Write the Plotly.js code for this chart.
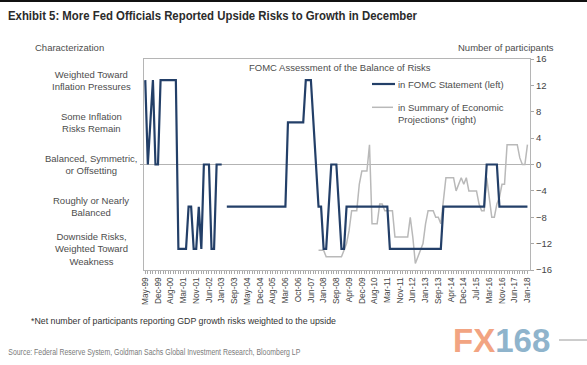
<!DOCTYPE html>
<html>
<head>
<meta charset="utf-8">
<script src="https://cdn.plot.ly/plotly-3.0.1.min.js"></script>
<style>html,body{margin:0;padding:0;background:#fff;}#chart{width:587px;height:365px;}</style>
</head>
<body>
<div id="chart"></div>
<script>
// ---- DATA ----
const meetings = [
 'May-99','Jun-99','Aug-99','Oct-99','Nov-99','Dec-99',
 'Feb-00','Mar-00','May-00','Jun-00','Aug-00','Oct-00','Nov-00','Dec-00',
 'Jan-01','Mar-01','May-01','Jun-01','Aug-01','Oct-01','Nov-01','Dec-01',
 'Jan-02','Mar-02','May-02','Jun-02','Aug-02','Sep-02','Nov-02','Dec-02',
 'Jan-03','Mar-03','May-03','Jun-03','Aug-03','Sep-03','Oct-03','Dec-03',
 'Jan-04','Mar-04','May-04','Jun-04','Aug-04','Sep-04','Nov-04','Dec-04',
 'Feb-05','Mar-05','May-05','Jun-05','Aug-05','Sep-05','Nov-05','Dec-05',
 'Jan-06','Mar-06','May-06','Jun-06','Aug-06','Sep-06','Oct-06','Dec-06',
 'Jan-07','Mar-07','May-07','Jun-07','Aug-07','Sep-07','Oct-07','Dec-07',
 'Jan-08','Mar-08','Apr-08','Jun-08','Aug-08','Sep-08','Oct-08','Dec-08',
 'Jan-09','Mar-09','Apr-09','Jun-09','Aug-09','Sep-09','Nov-09','Dec-09',
 'Jan-10','Mar-10','Apr-10','Jun-10','Aug-10','Sep-10','Nov-10','Dec-10',
 'Jan-11','Mar-11','Apr-11','Jun-11','Aug-11','Sep-11','Nov-11','Dec-11',
 'Jan-12','Mar-12','Apr-12','Jun-12','Aug-12','Sep-12','Oct-12','Dec-12',
 'Jan-13','Mar-13','May-13','Jun-13','Jul-13','Sep-13','Oct-13','Dec-13',
 'Jan-14','Mar-14','Apr-14','Jun-14','Jul-14','Sep-14','Oct-14','Dec-14',
 'Jan-15','Mar-15','Apr-15','Jun-15','Jul-15','Sep-15','Oct-15','Dec-15',
 'Jan-16','Mar-16','Apr-16','Jun-16','Jul-16','Sep-16','Nov-16','Dec-16',
 'Feb-17','Mar-17','May-17','Jun-17','Jul-17','Sep-17','Nov-17','Dec-17',
 'Jan-18'
];
const tickLabels = ['May-99','Dec-99','Aug-00','Mar-01','Nov-01','Jun-02','Jan-03','Sep-03',
 'May-04','Dec-04','Aug-05','Mar-06','Oct-06','Jun-07','Jan-08','Sep-08','Apr-09','Dec-09',
 'Aug-10','Mar-11','Nov-11','Jun-12','Jan-13','Sep-13','Apr-14','Dec-14','Jul-15','Mar-16',
 'Nov-16','Jun-17','Jan-18'];

// FOMC statement characterization (left axis level: -2 downside ... 2 inflation)
const fomcLevel = [
 2,0,1,2,0,0,
 2,2,2,2,2,2,2,-2,
 -2,-2,-2,-1,-1,-2,-2,-1,
 -2,0,0,0,-2,-2,0,0,
 0,null,-1,-1,-1,-1,-1,-1,
 -1,-1,-1,-1,-1,-1,-1,-1,
 -1,-1,-1,-1,-1,-1,-1,-1,
 -1,-1,1,1,1,1,1,1,
 1,2,2,2,1,0,-1,-1,
 -2,-2,-1,0,0,0,-1,-2,
 -2,-1,-1,-1,-1,-1,-1,-1,
 -1,-1,-1,-1,-1,-1,-1,-1,
 -1,-1,-2,-2,-2,-2,-2,-2,
 -2,-2,-2,-2,-2,-2,-2,-2,
 -2,-2,-2,-2,-2,-2,-2,-1,
 -1,-1,-1,-1,-1,-1,-1,-1,
 -1,-1,-1,-1,-1,-1,-1,-1,
 0,0,0,0,0,-1,-1,-1,
 -1,-1,-1,-1,-1,-1,-1,-1,
 -1
];

// SEP: net number of participants reporting GDP growth risks weighted to the upside (right axis)
const sepStart = 'Oct-07';
const sepNet = [
 -13,-13,-13,-14,-14,-14,-14,-14,-14,-14,
 -13,-12,-10,-7,-7,-7,-3,-1,-1,-1,
 3,-9,-9,-9,-6,-6,-7,-7,-7,-7,
 -11,-11,-11,-11,-11,-11,-8,-11,-15,-14,
 -13,-12,-9,-7,-7,-7,-8,-8,-9,-5,
 -2,-2,-2,-2,-4,-3,-2,-3,-2,-4,
 -4,-4,-4,-6,-7,-7,-2,-5,-8,-8,
 -6,-5,-3,-3,3,3,3,3,3,1,
 0,0,3
];

const levelValues = [-2,-1,0,1,2];
const levelLabels = ['Downside Risks,<br>Weighted Toward<br>Weakness','Roughly or Nearly<br>Balanced',
 'Balanced, Symmetric,<br>or Offsetting','Some Inflation<br>Risks Remain','Weighted Toward<br>Inflation Pressures'];
const participantTicks = [-16,-12,-8,-4,0,4,8,12,16];

// ---- LAYOUT HELPERS (pixel -> paper) ----
const L = 144, R = 530, T = 59, B = 270;
const X = px => (px - L) / (R - L);
const Y = py => (B - py) / (B - T);

const FONT = 'Liberation Sans, Arial, sans-serif';
const BLUE = '#233f68';
const GRAY = '#b9b9b9';
const SOURCE_W = 292;

const traces = [
 {
  x: meetings.slice(meetings.indexOf(sepStart)), y: sepNet, yaxis: 'y',
  type: 'scatter', mode: 'lines', line: {color: GRAY, width: 1.5}, name: 'in Summary of Economic Projections* (right)',
  hoverinfo: 'skip'
 },
 {
  x: meetings, y: fomcLevel, yaxis: 'y2', connectgaps: false,
  type: 'scatter', mode: 'lines', line: {color: BLUE, width: 2.2}, name: 'in FOMC Statement (left)',
  hoverinfo: 'skip'
 }
];

const ann = [];
levelValues.forEach((v, i) => ann.push({
 x: X(91), xref: 'paper', y: v, yref: 'y2', text: levelLabels[i], showarrow: false,
 xanchor: 'center', yanchor: 'middle', align: 'center', font: {family: FONT, size: 9.5, color: '#4d4d4d'}
}));
ann.push(
 {x: X(69), y: Y(47), xref: 'paper', yref: 'paper', text: 'Characterization', showarrow: false, xanchor: 'center', yanchor: 'middle', font: {family: FONT, size: 9.5, color: '#4d4d4d'}},
 {x: X(556), y: Y(47), xref: 'paper', yref: 'paper', text: 'Number of participants', showarrow: false, xanchor: 'right', yanchor: 'middle', font: {family: FONT, size: 9.5, color: '#4d4d4d'}},
 {x: X(340), y: Y(67.5), xref: 'paper', yref: 'paper', text: 'FOMC Assessment of the Balance of Risks', showarrow: false, xanchor: 'center', yanchor: 'middle', font: {family: FONT, size: 9.5, color: '#4d4d4d'}},
 {x: X(396), y: Y(84), xref: 'paper', yref: 'paper', text: 'in FOMC Statement (left)', showarrow: false, xanchor: 'left', yanchor: 'middle', align: 'left', font: {family: FONT, size: 9.5, color: '#4d4d4d'}},
 {x: X(396), y: Y(113.5), xref: 'paper', yref: 'paper', text: 'in Summary of Economic<br>Projections* (right)', showarrow: false, xanchor: 'left', yanchor: 'middle', align: 'left', font: {family: FONT, size: 9.5, color: '#4d4d4d'}},
 {x: X(29), y: Y(321), xref: 'paper', yref: 'paper', text: '*Net number of participants reporting GDP growth risks weighted to the upside', showarrow: false, xanchor: 'left', yanchor: 'middle', font: {family: FONT, size: 8.8, color: '#333'}},
 {x: X(8 + SOURCE_W / 2), y: Y(352), xref: 'paper', yref: 'paper', text: 'Source: Federal Reserve System, Goldman Sachs Global Investment Research, Bloomberg LP', showarrow: false, xanchor: 'center', yanchor: 'middle', font: {family: FONT, size: 8.5, color: '#7a7a7a'}},
 {x: X(451), y: Y(340), xref: 'paper', yref: 'paper', text: '<span style="color:#f2a482">FX</span><span style="color:#8fb4cc">168</span>', showarrow: false, xanchor: 'left', yanchor: 'middle', font: {family: FONT, size: 33, weight: 'bold'}}
);

const layout = {
 width: 587, height: 365,
 margin: {l: L, r: 587 - R, t: T, b: 365 - B, pad: 0},
 paper_bgcolor: '#fff', plot_bgcolor: '#fff',
 font: {family: FONT, color: '#444'},
 showlegend: false,
 title: {text: '<b>Exhibit 5: More Fed Officials Reported Upside Risks to Growth in December</b>',
  x: 8 / 587, xanchor: 'left', xref: 'container', y: 1 - 15.5 / 365, yanchor: 'middle', yref: 'container',
  font: {family: FONT, size: 13.5, color: '#2b2b2b'}},
 xaxis: {
  type: 'category', categoryorder: 'array', categoryarray: meetings, range: [-0.5, 151],
  tickmode: 'array', tickvals: meetings, ticktext: meetings.map(m => tickLabels.includes(m) ? m : ''),
  tickangle: -90, tickfont: {family: FONT, size: 8.3, color: '#444'},
  ticks: 'outside', ticklen: 3, tickcolor: '#a8a8a8', tickwidth: 1,
  showline: true, mirror: true, linecolor: '#b5b5b5', linewidth: 1,
  showgrid: false, zeroline: false, fixedrange: true
 },
 yaxis: {
  side: 'right', range: [-16, 16], tickmode: 'array', tickvals: participantTicks,
  ticks: 'outside', ticklen: 3, tickcolor: '#a8a8a8', tickfont: {family: FONT, size: 9.5, color: '#444'},
  showline: true, mirror: true, linecolor: '#b5b5b5', linewidth: 1,
  showgrid: false, zeroline: true, zerolinecolor: '#b3b3b3', zerolinewidth: 1, fixedrange: true
 },
 yaxis2: {
  overlaying: 'y', side: 'left', range: [-2.5, 2.5], showticklabels: false,
  tickmode: 'array', tickvals: [0], ticks: 'outside', ticklen: 3, tickcolor: '#a8a8a8',
  showline: false, showgrid: false, zeroline: false, fixedrange: true
 },
 shapes: [
  {type: 'line', xref: 'paper', yref: 'paper', x0: X(372), x1: X(395), y0: Y(84), y1: Y(84), line: {color: BLUE, width: 2.2}},
  {type: 'line', xref: 'paper', yref: 'paper', x0: X(372), x1: X(393), y0: Y(107.3), y1: Y(107.3), line: {color: GRAY, width: 1.5}},
  {type: 'rect', xref: 'paper', yref: 'paper', x0: X(0), x1: X(587), y0: Y(2), y1: Y(0), fillcolor: '#111', line: {width: 0}},
  {type: 'line', xref: 'paper', yref: 'paper', x0: X(559), x1: X(587), y0: Y(340), y1: Y(340), line: {color: '#9a9a9a', width: 1}}
 ],
 annotations: ann
};

function squeeze(el, width) {
 if (!el) return;
 el.setAttribute('textLength', String(width));
 el.setAttribute('lengthAdjust', 'spacingAndGlyphs');
}

Plotly.newPlot('chart', traces, layout, {staticPlot: true, displayModeBar: false}).then(gd => {
 squeeze(gd.querySelector('.gtitle'), 409);
 gd.querySelectorAll('.annotation-text').forEach(t => {
  if (t.textContent.indexOf('Source:') === 0) squeeze(t, SOURCE_W);
 });
});
</script>
</body>
</html>
